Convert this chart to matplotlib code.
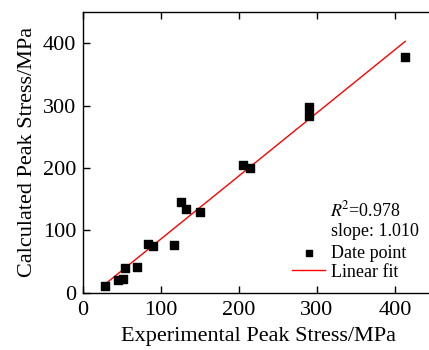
import numpy as np
import matplotlib
matplotlib.use("Agg")
import matplotlib.pyplot as plt

plt.rcParams['font.family'] = 'Liberation Serif'
plt.rcParams['mathtext.fontset'] = 'stix'

# experimental vs calculated peak stress (MPa)
exp_stress = [28.2, 45.3, 51.7, 53.8, 69.7, 82.9, 90.2, 116.7, 125.2, 131.6,
              149.6, 205.1, 214.5, 289.3, 289.3, 413.2]
calc_stress = [11.2, 20.8, 21.9, 40.0, 41.0, 78.4, 75.2, 76.3, 146.0, 134.4,
               129.6, 205.3, 200.0, 297.6, 283.7, 378.0]
fit_slope = 1.010
fit_intercept = -14.5
r_squared = 0.978

fig = plt.figure(figsize=(4.29, 3.5), dpi=100)
ax = fig.add_axes([0.1935, 0.163, 0.818, 0.803])

ax.scatter(exp_stress, calc_stress, marker='s', s=28, color='black',
           label='Date point', zorder=3)
xfit = np.array([min(exp_stress), max(exp_stress)])
ax.plot(xfit, fit_slope * xfit + fit_intercept, color='red', lw=1,
        label='Linear fit')

ax.set_xlim(0, 450)
ax.set_ylim(0, 450)
ax.set_xticks([0, 100, 200, 300, 400])
ax.set_yticks([0, 100, 200, 300, 400])
ax.tick_params(direction='in', length=5, width=1, labelsize=16,
               top=True, right=False)
ax.tick_params(axis='x', pad=6)
ax.tick_params(axis='y', pad=5)
for sp in ax.spines.values():
    sp.set_linewidth(1)

ax.set_xlabel('Experimental Peak Stress/MPa', fontsize=16, labelpad=5)
ax.set_ylabel('Calculated Peak Stress/MPa', fontsize=16, labelpad=4)

ax.text(0.704, 0.295, r'$R^{\!2}$=%.3f' % r_squared, transform=ax.transAxes,
        fontsize=13, ha='left', va='center')
ax.text(0.708, 0.217, 'slope: %.3f' % fit_slope, transform=ax.transAxes,
        fontsize=13, ha='left', va='center')
ax.legend(loc='center left', bbox_to_anchor=(0.595, 0.107), frameon=False,
          fontsize=13, handlelength=1.85, handletextpad=0.3,
          labelspacing=0.1, borderpad=0, borderaxespad=0, markerscale=0.8)

fig.savefig('out.png', dpi=100)
